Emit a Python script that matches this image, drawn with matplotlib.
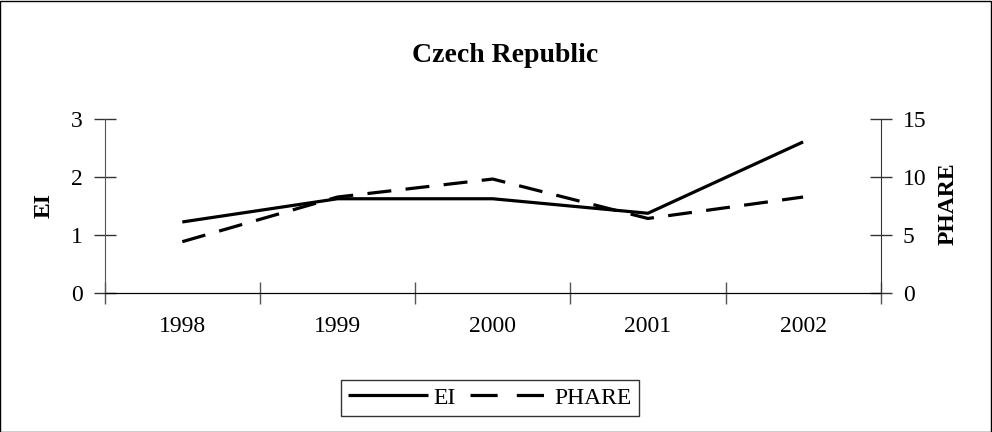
import matplotlib
matplotlib.use("Agg")
import matplotlib.pyplot as plt
from matplotlib.patches import Rectangle
from matplotlib.lines import Line2D

# donnees
annees = ['1998', '1999', '2000', '2001', '2002']
ei = [1.23, 1.63, 1.63, 1.38, 2.61]
phare = [4.45, 8.3, 9.85, 6.45, 8.3]

plt.rcParams['font.family'] = ['Liberation Serif', 'DejaVu Serif']

fig = plt.figure(figsize=(9.92, 4.32), dpi=100)
fig.patches.append(Rectangle((0.0005, 0.001), 0.998, 0.996, transform=fig.transFigure,
                             fill=False, edgecolor='black', linewidth=1))

ax = fig.add_axes([104.7/992, 1-293.3/432, (880.7-104.7)/992, (293.3-119.3)/432])
ax2 = ax.twinx()

x = range(len(annees))
ax.plot(x, ei, color='black', linewidth=2.3, solid_capstyle='butt')
ax2.plot(x, phare, color='black', linewidth=2.3, dashes=(7.5, 4.5))

ax.set_xlim(-0.5, len(annees) - 0.5)
ax.set_ylim(0, 3)
ax2.set_ylim(0, 15)
ax.set_yticks([0, 1, 2, 3])
ax2.set_yticks([0, 5, 10, 15])

# graduations entre les categories, etiquettes au centre
ax.set_xticks([i - 0.5 for i in range(len(annees) + 1)])
ax.set_xticklabels([])
ax.set_xticks(list(x), minor=True)
ax.set_xticklabels(annees, minor=True)
ax.tick_params(axis='x', which='minor', length=0, pad=16, labelsize=17)
ax.tick_params(axis='x', which='major', direction='inout', length=16, width=1, color='#555555')
ax.tick_params(axis='y', direction='inout', length=16, width=1, pad=8, labelsize=17, color='#333333')
ax2.tick_params(axis='y', direction='inout', length=16, width=1, pad=8, labelsize=17, color='#333333')

for a in (ax, ax2):
    a.spines['top'].set_visible(False)
    a.spines['left'].set_color('#555555')
    a.spines['right'].set_color('#333333')
    a.spines['bottom'].set_color('black')
    a.patch.set_visible(False)
ax2.spines['left'].set_visible(False)
ax.spines['right'].set_visible(False)

fig.text(505/992, 1-62/432, 'Czech Republic', ha='center', va='baseline',
         fontsize=20, fontweight='bold')
fig.text(44/992, 1-206/432, 'EI', rotation=90, ha='center', va='center',
         fontsize=17, fontweight='bold')
fig.text(948/992, 1-203.5/432, 'PHARE', rotation=90, ha='center', va='center',
         fontsize=17, fontweight='bold')

# poignees de legende
h1 = Line2D([], [], color='black', linewidth=2.3, solid_capstyle='butt')
h2 = Line2D([], [], color='black', linewidth=2.3, dashes=(8.5, 6))
leg = fig.legend([h1, h2], ['EI', 'PHARE'], loc='center', bbox_to_anchor=(490/992, 1-398/432),
                 ncol=2, fontsize=17, frameon=True, fancybox=False, handlelength=3.4,
                 handletextpad=0.2, columnspacing=0.6, borderpad=0.3, borderaxespad=0)
leg.get_frame().set_edgecolor('black')
leg.get_frame().set_linewidth(1)

plt.savefig('out.png', dpi=100)
